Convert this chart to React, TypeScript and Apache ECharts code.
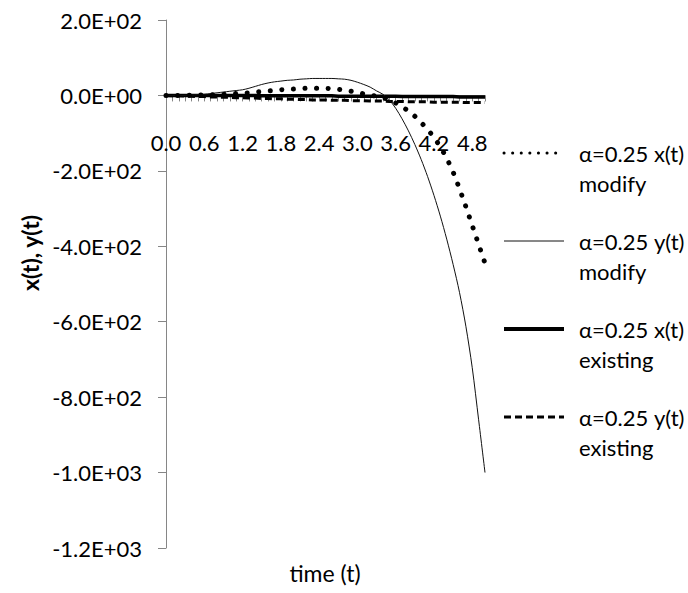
import React, { useEffect, useRef } from "react";
import * as echarts from "echarts";

// time samples 0.0 … 5.0, step 0.1
const times: string[] = [
  "0.0", "0.1", "0.2", "0.3", "0.4", "0.5", "0.6", "0.7", "0.8", "0.9",
  "1.0", "1.1", "1.2", "1.3", "1.4", "1.5", "1.6", "1.7", "1.8", "1.9",
  "2.0", "2.1", "2.2", "2.3", "2.4", "2.5", "2.6", "2.7", "2.8", "2.9",
  "3.0", "3.1", "3.2", "3.3", "3.4", "3.5", "3.6", "3.7", "3.8", "3.9",
  "4.0", "4.1", "4.2", "4.3", "4.4", "4.5", "4.6", "4.7", "4.8", "4.9",
  "5.0",
];

const xModify: number[] = [
  0, 0, 0, 0, 1, 1, 1, 2, 2, 3,
  4, 5, 6, 7, 9, 10, 12, 13, 15, 16,
  17, 18, 19, 19, 19, 19, 18, 16, 14, 11,
  8, 4, 1, -2, -6, -12, -20, -30, -41, -55,
  -72, -90, -111, -136, -166, -203, -247, -295, -345, -395,
  -445,
];

const yModify: number[] = [
  0, 0, 0, 0, 1, 2, 3, 5, 7, 9,
  11, 13, 15, 19, 24, 29, 33, 36, 38, 40,
  41, 43, 44, 45, 45, 45, 45, 44, 43, 40,
  35, 29, 22, 12, 3, -12, -34, -62, -94, -130,
  -170, -215, -265, -320, -381, -448, -522, -612, -722, -860,
  -1000,
];

const xExisting: number[] = [
  0, 0, 0, 0, 0, 0, 0, 0, 0, 0,
  0, 0, 0, 0, 0, -1, -1, -1, -1, -1,
  -1, -1, -1, -1, -1, -1, -1, -2, -2, -2,
  -2, -2, -2, -2, -2, -2, -2, -3, -3, -3,
  -3, -3, -3, -3, -3, -3, -4, -4, -4, -4,
  -4,
];

const yExisting: number[] = [
  0, -1, -1, -2, -2, -3, -3, -4, -4, -5,
  -5, -6, -6, -7, -7, -8, -8, -9, -9, -10,
  -10, -11, -11, -12, -12, -12, -13, -13, -13, -14,
  -14, -14, -15, -15, -15, -16, -16, -16, -17, -17,
  -17, -17, -18, -18, -18, -18, -18, -19, -19, -19,
  -19,
];

const seriesNames: string[] = [
  "α=0.25 x(t)\nmodify",
  "α=0.25 y(t)\nmodify",
  "α=0.25 x(t)\nexisting",
  "α=0.25 y(t)\nexisting",
];

const FONT = "Lato";
const Y_MIN = -1200;
const Y_MAX = 200;
const GRID_TOP = 20;
const GRID_BOTTOM = 45;
const CHART_H = 593;

function sci(v: number): string {
  if (v === 0) return "0.0E+00";
  const [m, e] = v.toExponential(1).split("e");
  const n = parseInt(e, 10);
  return m + "E" + (n < 0 ? "-" : "+") + String(Math.abs(n)).padStart(2, "0");
}

export default function App() {
  const ref = useRef<HTMLDivElement>(null);

  useEffect(() => {
    if (!ref.current) return;
    const chart = echarts.init(ref.current, undefined, { renderer: "svg" });
    const axisGray = "#868686";

    // lift the category axis (line, ticks, labels) up to the y = 0 level
    const gridH = CHART_H - GRID_TOP - GRID_BOTTOM;
    const zeroFromBottom = ((0 - Y_MIN) / (Y_MAX - Y_MIN)) * gridH;

    const dotted = { color: "#000", width: 5, type: [0.1, 11.5], cap: "round" };
    const thin = { color: "#111", width: 1 };
    const thick = { color: "#000", width: 3.5 };
    const dashed = { color: "#000", width: 3, type: [7, 4] };

    chart.setOption({
      animation: false,
      backgroundColor: "#ffffff",
      grid: { left: 166, right: 203, top: GRID_TOP, bottom: GRID_BOTTOM, containLabel: false },
      xAxis: {
        type: "category",
        data: times,
        boundaryGap: false,
        position: "bottom",
        offset: -zeroFromBottom,
        axisLine: { onZero: false, lineStyle: { color: axisGray, width: 1 } },
        axisTick: { show: true, interval: 0, length: 6, lineStyle: { color: axisGray } },
        axisLabel: {
          interval: 5,
          margin: 36,
          color: "#000",
          fontFamily: FONT,
          fontSize: 22,
        },
        splitLine: { show: false },
      },
      yAxis: {
        type: "value",
        min: Y_MIN,
        max: Y_MAX,
        interval: 200,
        axisLine: { show: true, lineStyle: { color: axisGray, width: 1 } },
        axisTick: { show: true, length: 8, lineStyle: { color: axisGray } },
        axisLabel: {
          margin: 24,
          color: "#000",
          fontFamily: FONT,
          fontSize: 22,
          formatter: (v: number) => sci(v),
        },
        splitLine: { show: false },
      },
      legend: {
        orient: "vertical",
        left: 502,
        top: 108,
        padding: 0,
        itemWidth: 60,
        itemHeight: 14,
        itemGap: -2,
        data: [
          { name: seriesNames[0], lineStyle: { width: 3, type: [0.1, 8.5], cap: "round" } },
          { name: seriesNames[1], lineStyle: { width: 1 } },
          { name: seriesNames[2], lineStyle: { width: 4 } },
          { name: seriesNames[3], lineStyle: { width: 3, type: [7, 4] } },
        ],
        itemStyle: { opacity: 0 },
        formatter: (name: string) => {
          const [a, b] = name.split("\n");
          return "{s| }\n{t|" + a + "}\n{t|" + b + "}";
        },
        textStyle: {
          color: "#000",
          fontFamily: FONT,
          fontSize: 22,
          lineHeight: 30,
          padding: [0, 0, 0, 10],
          rich: {
            s: { fontSize: 22, lineHeight: 30, fontFamily: FONT },
            t: { fontSize: 22, lineHeight: 30, fontFamily: FONT, color: "#000" },
          },
        },
      },
      graphic: [
        {
          type: "text",
          x: 30,
          y: 253,
          rotation: Math.PI / 2,
          style: {
            text: "x(t), y(t)",
            fontFamily: FONT,
            fontSize: 23,
            fontWeight: "bold",
            fill: "#000",
            align: "center",
            verticalAlign: "middle",
          },
        },
        {
          type: "text",
          x: 325,
          y: 573,
          style: {
            text: "time (t)",
            fontFamily: FONT,
            fontSize: 23,
            fill: "#000",
            align: "center",
            verticalAlign: "middle",
          },
        },
      ],
      series: [
        {
          name: seriesNames[0],
          type: "line",
          data: xModify,
          symbol: "none",
          color: "#000",
          lineStyle: dotted,
          z: 4,
        },
        {
          name: seriesNames[1],
          type: "line",
          data: yModify,
          symbol: "none",
          smooth: 0.3,
          color: "#000",
          lineStyle: thin,
          z: 3,
        },
        {
          name: seriesNames[2],
          type: "line",
          data: xExisting,
          symbol: "none",
          color: "#000",
          lineStyle: thick,
          z: 2,
        },
        {
          name: seriesNames[3],
          type: "line",
          data: yExisting,
          symbol: "none",
          color: "#000",
          lineStyle: dashed,
          z: 2,
        },
      ],
    });

    return () => chart.dispose();
  }, []);

  return (
    <div
      ref={ref}
      style={{ position: "absolute", left: 0, top: 0, width: 688, height: 593 }}
    />
  );
}
